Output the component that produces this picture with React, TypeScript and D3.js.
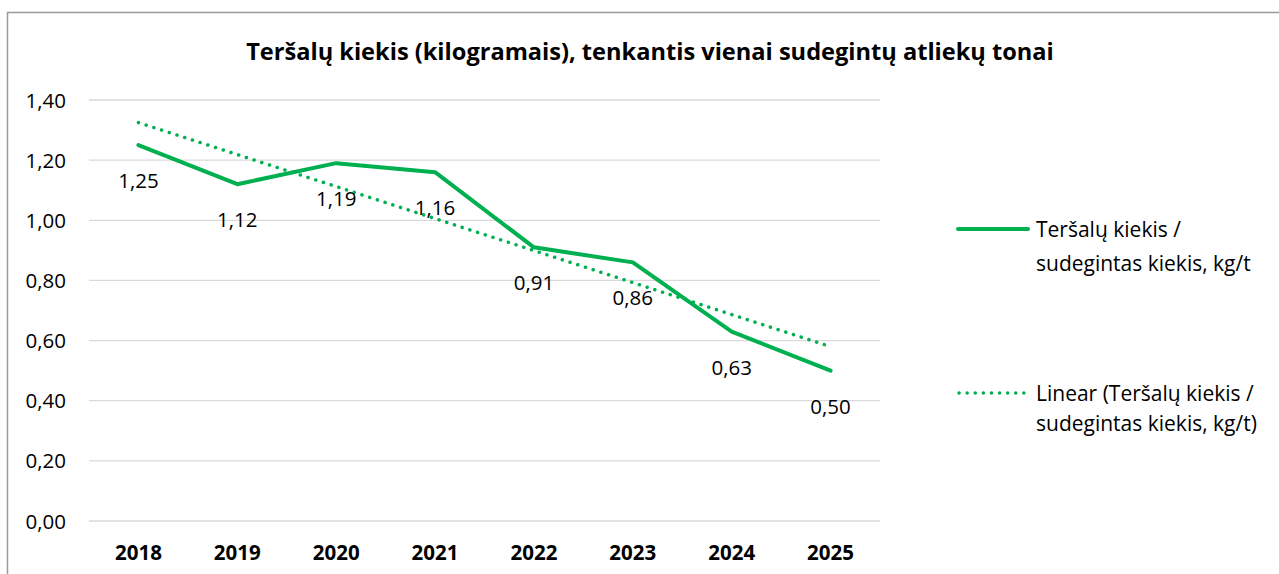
import React from "react";
import * as d3 from "d3";

const categories = ["2018", "2019", "2020", "2021", "2022", "2023", "2024", "2025"];
const values = [1.25, 1.12, 1.19, 1.16, 0.91, 0.86, 0.63, 0.5];
const yTicks = [0, 0.2, 0.4, 0.6, 0.8, 1.0, 1.2, 1.4];
const title = "Teršalų kiekis (kilogramais), tenkantis vienai sudegintų atliekų tonai";
const legendSeries = ["Teršalų kiekis /", "sudegintas kiekis, kg/t"];
const legendTrend = ["Linear (Teršalų kiekis /", "sudegintas kiekis, kg/t)"];

const GREEN = "#00B050";
const FONT = "'Open Sans', 'Noto Sans', sans-serif";

export default function App() {
  const W = 1279, H = 574;
  const plot = { left: 89, right: 880, top: 100, bottom: 521 };
  const x = d3.scaleBand<string>().domain(categories).range([plot.left, plot.right]);
  const y = d3.scaleLinear().domain([0, 1.4]).range([plot.bottom, plot.top]);
  const cx = (c: string) => (x(c) as number) + x.bandwidth() / 2;

  // linear trendline (least squares) from the series
  const idx = values.map((_, i) => i);
  const mx = d3.mean(idx) as number;
  const my = d3.mean(values) as number;
  const slope =
    d3.sum(idx.map((i) => (i - mx) * (values[i] - my))) / d3.sum(idx.map((i) => (i - mx) ** 2));
  const icpt = my - slope * mx;
  const trend = idx.map((i) => icpt + slope * i);

  const line = d3
    .line<number>()
    .x((_, i) => cx(categories[i]))
    .y((d) => y(d));

  const fmt = (v: number) => v.toFixed(2).replace(".", ",");

  return (
    <svg width={W} height={H} style={{ position: "absolute", left: 0, top: 0, background: "#fff" }}>
      <rect x={7.5} y={12.5} width={W + 10} height={H + 10} fill="#fff" stroke="#9a9a9a" strokeWidth={1.5} />
      <text x={650} y={60} textAnchor="middle" fontFamily={FONT} fontWeight="bold" fontSize={23.6} fill="#000">
        {title}
      </text>
      {yTicks.map((t) => (
        <g key={t}>
          <line x1={plot.left} x2={plot.right} y1={y(t)} y2={y(t)} stroke="#d9d9d9" strokeWidth={1.3} />
          <text x={66} y={y(t) + 7.5} textAnchor="end" fontFamily={FONT} fontSize={20.5} fill="#000">
            {fmt(t)}
          </text>
        </g>
      ))}
      {categories.map((c) => (
        <text key={c} x={cx(c)} y={559.5} textAnchor="middle" fontFamily={FONT} fontWeight="bold" fontSize={20.5} fill="#000">
          {c}
        </text>
      ))}
      <path d={line(trend) || ""} fill="none" stroke={GREEN} strokeWidth={3.5} strokeDasharray="0.1 8" strokeLinecap="round" />
      <path d={line(values) || ""} fill="none" stroke={GREEN} strokeWidth={4} strokeLinejoin="round" strokeLinecap="round" />
      {values.map((v, i) => (
        <text key={i} x={cx(categories[i])} y={y(v) + 43} textAnchor="middle" fontFamily={FONT} fontSize={20.5} fill="#000">
          {fmt(v)}
        </text>
      ))}
      <line x1={958} x2={1028} y1={229} y2={229} stroke={GREEN} strokeWidth={4} strokeLinecap="round" />
      {legendSeries.map((s, i) => (
        <text key={s} x={1036} y={236.5 + i * 34} fontFamily={FONT} fontSize={21} fill="#000">
          {s}
        </text>
      ))}
      <line x1={959} x2={1028} y1={393} y2={393} stroke={GREEN} strokeWidth={3.5} strokeDasharray="0.1 8" strokeLinecap="round" />
      {legendTrend.map((s, i) => (
        <text key={s} x={1036} y={400.5 + i * 30} fontFamily={FONT} fontSize={21} fill="#000">
          {s}
        </text>
      ))}
    </svg>
  );
}
